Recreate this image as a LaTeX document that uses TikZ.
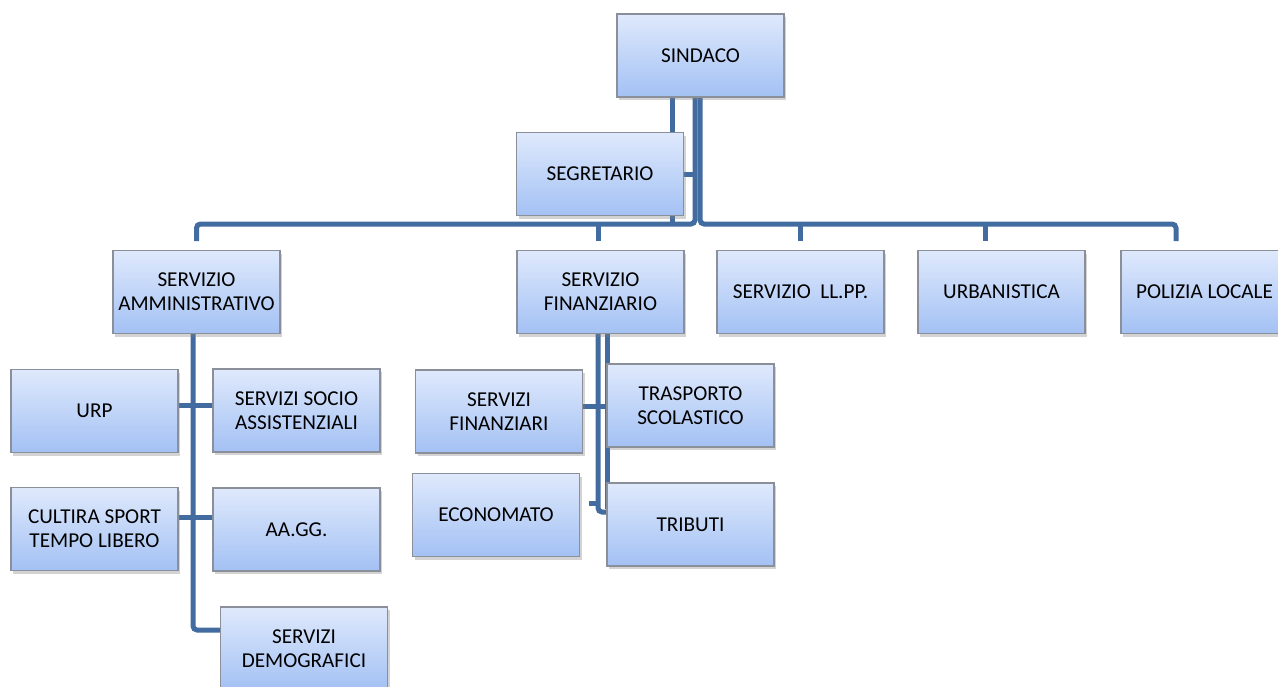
\documentclass[tikz,border=0pt]{standalone}
\usepackage{fontspec}
\setmainfont{Carlito}
\usepackage{tikz}
\usetikzlibrary{shadows,backgrounds}
\definecolor{boxtop}{RGB}{223,233,252}
\definecolor{boxbot}{RGB}{163,193,244}
\definecolor{boxline}{RGB}{138,143,153}
\definecolor{cline}{RGB}{66,108,160}

\begin{document}
\begin{tikzpicture}[x=0.5pt,y=-0.5pt,
  office node/.style={rectangle,draw=boxline,line width=0.7pt,top color=boxtop,bottom color=boxbot,
    minimum width=83.5pt,minimum height=41.5pt,inner sep=0pt,align=center,
    font=\fontsize{10.6}{12}\selectfont,
    drop shadow={opacity=0.35,shadow xshift=1pt,shadow yshift=-1.5pt}},
  link/.style={draw=cline,line width=2.5pt,rounded corners=2pt}]
  \useasboundingbox (0,0) rectangle (1278,686);
  \node[office node] (sind) at (700.5,55.5) {SINDACO};
  \node[office node] (segr) at (600,174) {SEGRETARIO};
  \node[office node] (amm) at (196.5,292) {SERVIZIO\\AMMINISTRATIVO};
  \node[office node] (fin) at (600.5,292) {SERVIZIO\\FINANZIARIO};
  \node[office node] (llpp) at (800.5,292) {SERVIZIO\ \ LL.PP.};
  \node[office node] (urb) at (1001.5,292) {URBANISTICA};
  \node[office node] (pol) at (1204.5,292) {POLIZIA LOCALE};
  \node[office node] (urp) at (94.5,411) {URP};
  \node[office node] (socio) at (296.5,410.5) {SERVIZI SOCIO\\ASSISTENZIALI};
  \node[office node] (cult) at (94.5,529) {CULTIRA SPORT\\TEMPO LIBERO};
  \node[office node] (aagg) at (296.5,529.5) {AA.GG.};
  \node[office node] (demo) at (304,648.5) {SERVIZI\\DEMOGRAFICI};
  \node[office node] (sfin) at (499,411.5) {SERVIZI\\FINANZIARI};
  \node[office node] (trasp) at (690.5,405.5) {TRASPORTO\\SCOLASTICO};
  \node[office node] (econ) at (496,515) {ECONOMATO};
  \node[office node] (trib) at (690.5,524.5) {TRIBUTI};

  \begin{scope}[on background layer]
    % top level
    \coordinate (bus) at (0,224);
    \coordinate (xfin) at (598,0);
    \coordinate (xurb) at (985,0);
    \coordinate (xpol) at (1176,0);
    \draw[link] ([xshift=-2.75pt]sind.south) |- (bus -| amm.north) -- ++(0,17);
    \draw[link] ([xshift=-0.25pt]sind.south) |- (bus -| xpol) -- ++(0,17);
    \draw[link] ([xshift=-6pt]segr.north east |- sind.south) -- ([xshift=-6pt]segr.north east);
    \draw[link] ([xshift=-6pt]segr.south east) -- ++(0,9);
    \draw[link] (segr.east) -- ([xshift=-2.75pt]segr.east -| sind.south);
    \draw[link] (bus -| xfin) -- ++(0,17);
    \draw[link] (bus -| llpp.north) -- ++(0,17);
    \draw[link] (bus -| xurb) -- ++(0,17);
    % amministrativo
    \draw[link] ([xshift=-1.75pt]amm.south) |- ([yshift=9.25pt]demo.west);
    \draw[link] ([yshift=3pt]urp.east) -- ([yshift=3pt]urp.east -| socio.west);
    \draw[link] ([yshift=6pt]cult.east) -- ([yshift=6pt]cult.east -| aagg.west);
    % finanziario
    \draw[link] ([xshift=-1.25pt]fin.south) |- ([yshift=6.25pt]trib.west);
    \draw[link] ([xshift=3.25pt]fin.south) -- ++(0,175);
    \draw[link] ([yshift=2.75pt]sfin.east) -- ++(25,0);
    \draw[link] ([xshift=4.5pt,yshift=6pt]econ.east) -- ++(10,0);
  \end{scope}
\end{tikzpicture}
\end{document}
